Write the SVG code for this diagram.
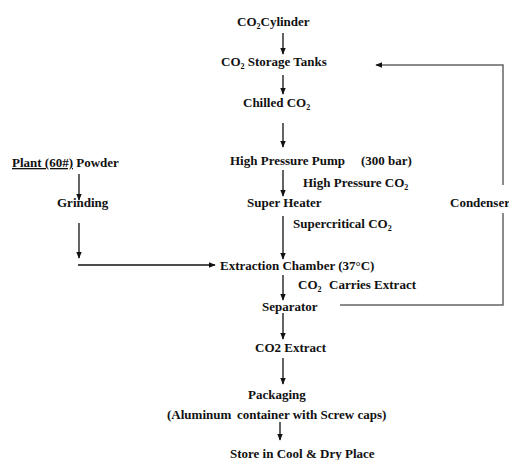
<svg xmlns="http://www.w3.org/2000/svg" width="509" height="460" viewBox="0 0 509 460">
<style>
text{font-family:"Liberation Serif","Times New Roman",serif;font-weight:bold;font-size:13px;fill:#111}
.sub{font-size:8px}
.c{stroke:#111;stroke-width:1.3;fill:none}
.g{stroke:#666;stroke-width:1.5;fill:none}
</style>
<defs>
<marker id="ahb" viewBox="0 0 10 10" refX="9" refY="5" markerWidth="7" markerHeight="7" markerUnits="userSpaceOnUse" orient="auto"><path d="M0,1L10,5L0,9z" fill="#111"/></marker>
</defs>
<rect width="509" height="460" fill="#fff"/>
<g id="connectors">
<path class="c" d="M283,33V54" marker-end="url(#ahb)"/>
<path class="c" d="M283,75V94" marker-end="url(#ahb)"/>
<path class="c" d="M283,123V147" marker-end="url(#ahb)"/>
<path class="c" d="M283,170V196" marker-end="url(#ahb)"/>
<path class="c" d="M283,216V259" marker-end="url(#ahb)"/>
<path class="c" d="M283,275V300" marker-end="url(#ahb)"/>
<path class="c" d="M283,313V339" marker-end="url(#ahb)"/>
<path class="c" d="M283,358V384" marker-end="url(#ahb)"/>
<path class="c" d="M280,422V440" marker-end="url(#ahb)"/>
<path class="c" d="M79,174V200" marker-end="url(#ahb)"/>
<path class="c" d="M79,223V258" marker-end="url(#ahb)"/>
<path class="c" d="M78,265H215" marker-end="url(#ahb)"/>
<path class="g" d="M503,185V65H376" marker-end="url(#ahb)"/>
<path class="g" d="M503,213V305H340"/>
</g>
<g id="co2-cylinder"><text x="237" y="26">CO<tspan class="sub" dy="3">2</tspan><tspan dy="-3">Cylinder</tspan></text></g>
<g id="storage-tanks"><text x="221" y="66">CO<tspan class="sub" dy="3">2</tspan><tspan dy="-3"> Storage Tanks</tspan></text></g>
<g id="chilled-co2"><text x="243" y="107">Chilled CO<tspan class="sub" dy="3">2</tspan></text></g>
<g id="hp-pump"><text x="230" y="165">High Pressure Pump<tspan x="361">(300 bar)</tspan></text></g>
<g id="hp-co2"><text x="303" y="187">High Pressure CO<tspan class="sub" dy="3">2</tspan></text></g>
<g id="super-heater"><text x="247" y="207">Super Heater</text></g>
<g id="condenser"><text x="450" y="207">Condenser</text></g>
<g id="supercritical"><text x="293" y="228">Supercritical CO<tspan class="sub" dy="3">2</tspan></text></g>
<g id="extraction-chamber"><text x="220" y="270">Extraction Chamber (37°C)</text></g>
<g id="carries-extract"><text x="298" y="289">CO<tspan class="sub" dy="3">2</tspan><tspan dy="-3" x="329">Carries Extract</tspan></text></g>
<g id="separator"><text x="262" y="311">Separator</text></g>
<g id="co2-extract"><text x="255" y="352">CO2 Extract</text></g>
<g id="packaging"><text x="248" y="399">Packaging</text></g>
<g id="container"><text x="167" y="419">(Aluminum<tspan x="237">container with Screw caps)</tspan></text></g>
<g id="store"><text x="230" y="458">Store in Cool &amp; Dry Place</text></g>
<g id="plant-powder"><text x="12" y="167"><tspan text-decoration="underline">Plant (60#)</tspan> Powder</text></g>
<g id="grinding"><text x="57" y="207">Grinding</text></g>
</svg>
